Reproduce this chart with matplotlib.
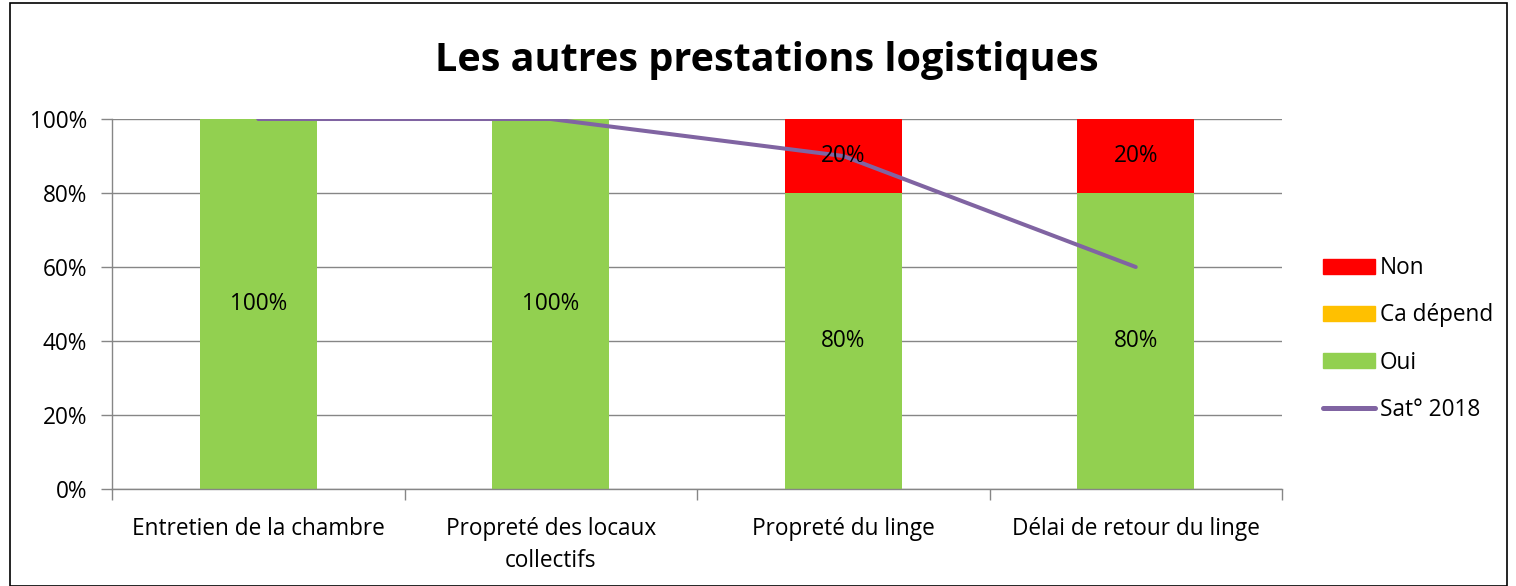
import matplotlib
matplotlib.use("Agg")
import matplotlib.pyplot as plt
from matplotlib.patches import Rectangle
from matplotlib.lines import Line2D
from matplotlib.ticker import FixedLocator, FuncFormatter
import numpy as np

plt.rcParams['font.family'] = ['Open Sans', 'DejaVu Sans']

categories = ["Entretien de la chambre", "Propreté des locaux\ncollectifs",
              "Propreté du linge", "Délai de retour du linge"]
oui = [100, 100, 80, 80]
ca_depend = [0, 0, 0, 0]
non = [0, 0, 20, 20]
sat_2018 = [100, 100, 90, 60]

c_oui = "#92D050"
c_ca = "#FFC000"
c_non = "#FF0000"
c_line = "#8064A2"
grid_c = "#868686"

fig = plt.figure(figsize=(15.16, 5.86), dpi=100)
ax = fig.add_axes([112/1516, 1-489/586, (1282-112)/1516, (489-119)/586])

x = np.arange(len(categories))
w = 0.4
ax.bar(x, oui, w, color=c_oui, zorder=2)
ax.bar(x, ca_depend, w, bottom=oui, color=c_ca, zorder=2)
bottom2 = [a + b for a, b in zip(oui, ca_depend)]
ax.bar(x, non, w, bottom=bottom2, color=c_non, zorder=2)
ax.plot(x, sat_2018, color=c_line, lw=2.9, zorder=4, solid_capstyle='round')

fs = 16.3
for i in range(len(x)):
    if oui[i] > 0:
        ax.text(x[i], oui[i] / 2, f"{oui[i]}%", ha='center', va='center', fontsize=fs, zorder=5)
    if non[i] > 0:
        ax.text(x[i], bottom2[i] + non[i] / 2, f"{non[i]}%", ha='center', va='center', fontsize=fs, zorder=5)

ax.set_xlim(-0.5, len(categories) - 0.5)
ax.set_ylim(0, 100)
ax.yaxis.set_major_locator(FixedLocator([0, 20, 40, 60, 80, 100]))
ax.yaxis.set_major_formatter(FuncFormatter(lambda v, p: f"{int(v)}%"))
ax.grid(axis='y', color=grid_c, lw=1, zorder=1)
ax.set_axisbelow(True)

ax.set_xticks(x)
ax.set_xticklabels(categories, fontsize=fs, linespacing=1.45)
ax.tick_params(axis='x', length=0, pad=20)
ax.set_xticks(np.arange(-0.5, len(categories) + 0.5, 1), minor=True)
ax.tick_params(axis='x', which='minor', length=8, color=grid_c, width=1)
ax.tick_params(axis='y', length=8, color=grid_c, width=1, labelsize=fs, pad=10)

for s in ['top', 'right']:
    ax.spines[s].set_visible(False)
for s in ['left', 'bottom']:
    ax.spines[s].set_color(grid_c)
    ax.spines[s].set_linewidth(1)

fig.text(767/1516, 1 - 60/586, "Les autres prestations logistiques", ha='center', va='center',
         fontsize=28.5, fontweight='bold')

handles = [
    Rectangle((0, 0), 1, 1, color=c_non),
    Rectangle((0, 0), 1, 1, color=c_ca),
    Rectangle((0, 0), 1, 1, color=c_oui),
    Line2D([0], [0], color=c_line, lw=3.6, solid_capstyle='round'),
]
labels = ["Non", "Ca dépend", "Oui", "Sat° 2018"]
leg = fig.legend(handles, labels, loc='center left', bbox_to_anchor=(1323/1516, 1 - 339/586),
                 frameon=False, fontsize=fs, handlelength=2.3, handleheight=0.65,
                 handletextpad=0.2, labelspacing=1.03, borderaxespad=0, borderpad=0)

fig.add_artist(Rectangle((10/1516, 0), (1507-10)/1516, 1 - 3/586, transform=fig.transFigure,
                         fill=False, edgecolor='black', lw=1.2))

fig.savefig("out.png", dpi=100)
